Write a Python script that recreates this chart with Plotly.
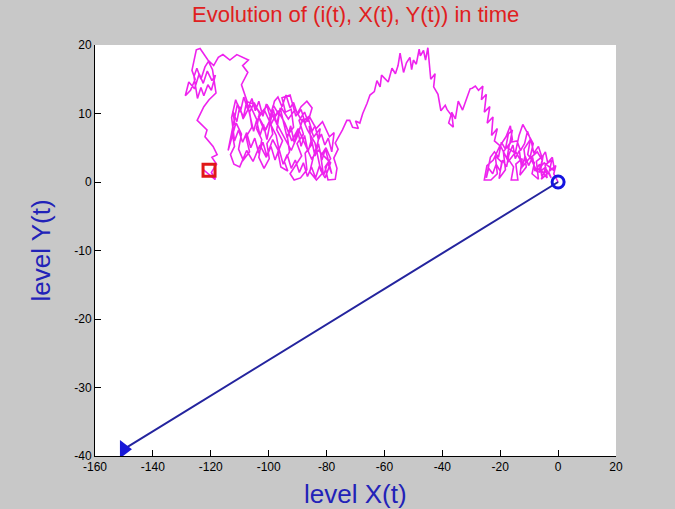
import plotly.graph_objects as go

# Magenta random-walk path (i(t)), from start (0,0) to the red square
walk_x = [0, -1.5, -0.8, -3, -2.2, -4.5, -3.8, -6, -5.2, -7.5, -6.8, -9, -8.2, -10.5, -9.6, -11.8, -11, -13.2,
          -12.4, -14.6, -13.9, -16.2, -15.4, -17.6, -16.8, -18.9, -18.2, -20.4, -19.5, -21.7, -21, -23.2, -25.5,
          -24.6, -22.4, -20.2, -18, -16.5, -15.8, -17.5, -14.8, -13.5, -12.2, -10.4, -8.6, -9.8, -7.2, -5.5,
          -6.6, -4.2, -5.8, -3.2, -2.4,
          -4, -5.6, -6.4, -8, -8.8, -10.2, -11.4, -12.6, -13.4, -14.8, -15.6, -17, -17.8, -19.2, -20, -21.4,
          -22.6, -24, -24.8, -23.4, -22, -20.6, -19.6, -18.2, -17.2, -15.8, -16.6, -14.2, -13, -11.6, -10.6,
          -9.2, -8.4, -6.8, -5.6, -4.4, -3.6, -2, -1.2,
          -4.8, -7.4, -9.6, -12, -14.6, -17.2, -19.8, -22, -21, -23, -22.5, -24.5,
          -23.6, -25.5, -24.8, -26.5, -26, -27.5, -28.6, -29.7, -30.4, -31.6, -33, -34.5, -35.5, -36.8, -36.2,
          -37.8, -37, -38.4, -39, -40.5, -41.5, -43, -42.5, -44, -44.6, -45, -45.8, -46.5, -47.6, -48, -49, -50,
          -50.6, -51.2, -52.4, -53.4, -54.6, -55.3, -56.2, -57.4, -58.7, -60, -61, -61.5, -62.6, -63.5, -65,
          -66, -67.5, -68.5, -70, -69, -71, -72, -73, -74.5, -75.5, -77, -76, -77.5, -76.4, -77,
          -79.5, -80.5, -78.6, -80.2, -82, -81.2, -83.5, -85.8, -84.6, -83, -82.2, -84.4, -86, -85.2, -87.4,
          -86.8, -89, -91.2, -92.6, -90.4, -88.6, -90.2, -88, -89.5, -87.6, -86.4, -85, -86.8, -88.8, -90.6,
          -92.6, -95.4, -94.2, -92.2, -91.4, -93.6, -92.8, -94.6, -93.4, -95.8, -96.8, -95.2, -97.2, -96.4,
          -98.4, -99.6, -98.6, -100.6, -99.8, -101.6, -103.4, -102.4, -104.2, -103.2, -105, -106.6, -105.8,
          -107.8, -106.6, -108.8, -110.4, -109.4, -111.2, -112.6, -111.8, -113.2, -112, -110, -107.6, -105.4,
          -103, -100.8, -98.6, -96.2, -97.4, -99.8, -101.4, -103.6, -101, -98.8, -96.6, -94.4, -92.2, -90,
          -88.2, -86.6, -84, -82, -80.5, -78.6, -82.8, -85.2, -87.6, -89.8, -92, -94.4, -96.8, -99.2, -101.6,
          -104, -106.4, -108.6, -110.8, -113, -114, -111.6,
          -112.4, -111, -110, -108.8, -107.6, -106.4, -105.2, -104.2, -103, -101.8, -100.6, -99.4, -98.4, -97.2,
          -96, -94.8, -93.6, -92.4, -91.2, -90, -88.8, -87.6, -86.4, -85.2, -84, -82.8, -81.6, -80.4, -79.2,
          -78.2, -79.6, -81, -82.4, -83.8, -85.2, -86.6, -88, -89.4, -90.8, -92.2, -93.6, -95, -96.4, -97.8,
          -99.2, -100.6, -102, -103.4, -104.8, -106.2, -107.6, -109, -110.4, -111.8, -112.8,
          -111.4, -109.8, -108.6, -107.2, -105.8, -104.6, -103.4, -102, -100.8, -99.4, -98, -96.8, -95.4, -94,
          -92.6, -91.4, -90, -88.8, -87.4, -86.4, -85, -84, -82.8, -81.8, -80.6, -79.4, -78.2, -77.4,
          -79, -81.4, -83.6, -86, -88.4, -90.8, -93.2, -95.6, -98, -100.4, -102.8, -105.2, -107.4,
          -109.4, -107.2, -109, -107, -111, -113.4, -115.8,
          -117.4, -119, -121, -123.7, -125, -126.5, -125.4, -127, -128.8, -127.6, -125.6, -124, -122.6, -121.2,
          -119.6, -118.4, -119.8, -121, -122.4, -123.4, -124.6, -125.8, -124.8, -123.4, -122, -120.8, -119.4,
          -118.2, -120.6, -122.4, -124.7, -123.7, -121.3, -122, -120.3, -119.2, -117.8, -119.6, -118,
          -119.8, -118.4, -118.6, -122.6, -122.4, -120.6]
walk_y = [0, 1.2, 2.4, 1.6, 3.2, 2.5, 0.6, 1.8, 3.8, 3, 0.4, 1.2, 2.8, 4, 6.2, 4.8, 2.2, 1,
          3.4, 2.6, 0.3, 0.3, 2.2, 3.6, 5.6, 4.4, 1.8, 0.5, 2.9, 3.8, 1.2, 0.3, 0.3,
          2.4, 3.2, 5.2, 6.6, 8.2, 6.2, 5, 4.2, 6.8, 8.4, 7, 5.6, 3.4, 4.4, 3.2,
          1.4, 2.2, 0.4, 1.4, 0.6,
          1.8, 0.8, 2.6, 1.6, 3.6, 2.4, 3.8, 2, 4.6, 3.4, 5.4, 4, 2.2, 3.2, 1.6, 2.6,
          1.2, 2, 0.6, 3.6, 4.4, 3.6, 5.8, 4.8, 7, 7.6, 5.8, 6, 4.6, 5.6, 7.4,
          5.8, 4.2, 5.2, 3.6, 4.4, 2.8, 3.6, 1.6,
          2.8, 1.6, 3.6, 2.4, 4.4, 3, 5.2, 6, 7.8, 6.8, 9.5, 8.6,
          11, 10.2, 12.8, 12, 14, 13.4, 14, 13.7, 13.6, 12.2, 10.5, 11.8, 9.2, 10.2, 8,
          8.6, 9.8, 10.6, 11.2, 10.4, 12.8, 13.9, 15.8, 15, 17.6, 19.6, 17.8, 19.2, 18.4, 19.4, 17.2, 17.8,
          16.4, 18.2, 17.4, 16, 18.8, 17, 15.8, 16.6, 14.6, 15.2, 15.6, 13.9, 14.8, 13.2, 12.7,
          11.5, 10, 8.6, 8.9, 7.8, 8, 9, 9, 7.6, 6.8, 5.7, 4.8, 3.5, 2, 0.4,
          0.3, 2.2, 3.4, 5, 3.8, 1.4, 0.3, 1.5, 3.6, 5.8, 7.8, 6.6, 8.2, 5.4, 4.2,
          1.8, 0.6, 0.3, 1.2, 2.6, 3.8, 5.6, 7, 9, 10.2, 8.8, 10.8, 11.8, 11, 9.6,
          12.7, 12.3, 10.2, 10.6, 8, 6.8, 4.4, 3, 1.6, 2.2, 4.4, 6, 7.6, 9.8,
          11.2, 9.4, 7, 5.6, 3.4, 2, 3.6, 6.2, 7.8, 10, 11.6, 10.2, 8,
          6.6, 4.4, 3.2, 4.8, 7, 8.6, 7.2, 5.2, 4, 2.6, 2.2, 4.6, 3,
          5.4, 3.6, 6.2, 4.2, 6.8, 8.8, 7.4, 9.6, 7.6, 9.8, 8, 6.4, 4.6,
          6.8, 9.2, 7.6, 5.7, 1.7, 0.6, 2.8, 4.6, 3.4, 5.8, 7.8, 6, 8.6, 10.4, 8.4,
          10.6, 9, 11.2, 9.4, 11.4, 6.6, 4.6,
          8.2, 10.4, 8.8, 11, 9.2, 11.8, 9.6, 7.4, 9, 6.8, 8.4, 6.2, 8.8, 10.6,
          8.4, 10.8, 8.6, 6.4, 8.2, 5.8, 7.6, 5.2, 6.8, 4.4, 6.2, 3.8, 5.6, 3.2, 4.8,
          2.6, 1.2, 2.8, 1, 2.4, 0.6, 2.2, 0.8, 2.8, 1.4, 3.2, 2, 4, 2.6, 4.8,
          3.2, 5.2, 3.8, 5.8, 4.2, 6.4, 5, 7.2, 5.8, 7.6, 6,
          9.4, 12, 10.2, 12.4, 10.6, 12.2, 10.4, 11.8, 9.6, 11.4, 9.4, 11.8, 12.4, 11,
          12.7, 10.8, 11.6, 9.8, 10.6, 8.6, 9.4, 7.4, 8.2, 6.2, 7, 5.4, 6.4, 4.4,
          7.2, 6.6, 8.8, 7.8, 9.6, 8.8, 10.6, 9.2, 10.8, 9.4, 11.2, 10, 11.4,
          11.7, 14.2, 16, 17, 17.8, 18.6, 17.8,
          18.6, 18.2, 17, 17.8, 19.5, 19.3, 16.3, 15, 13.4, 12.6, 14.6, 13.6, 15.8, 14.4,
          16.2, 14.8, 15.6, 13.4, 14.2, 12.6, 13.8, 12.2, 15.4, 16.6, 15, 16.8, 17.6,
          16.4, 13, 12, 11, 9, 8.6, 7.6, 6.6, 5.8, 5.2, 4, 3.6,
          2.6, 1.4, 0.4, 0.4, 1.8, 1.7]

# Blue line (X(t), Y(t)) from origin to the final point
line_x = [0, -15, -30, -45, -60, -75, -90, -105, -120, -135, -150]
line_y = [0, -3.9, -7.8, -11.7, -15.6, -19.5, -23.4, -27.3, -31.2, -35.1, -39]

x_ticks = [-160, -140, -120, -100, -80, -60, -40, -20, 0, 20]
y_ticks = [-40, -30, -20, -10, 0, 10, 20]

title_text = "Evolution of (i(t), X(t), Y(t)) in time"
x_label = "level X(t)"
y_label = "level Y(t)"

fig = go.Figure()
fig.add_trace(go.Scatter(x=walk_x, y=walk_y, mode="lines",
                         line=dict(color="#ee22ee", width=1.6), hoverinfo="skip"))
fig.add_trace(go.Scatter(x=line_x, y=line_y, mode="lines",
                         line=dict(color="#24249e", width=2), hoverinfo="skip"))
fig.add_trace(go.Scatter(x=[line_x[0]], y=[line_y[0]], mode="markers",
                         marker=dict(symbol="circle-open", size=12, color="#1414e0",
                                     line=dict(width=3, color="#1414e0"))))
fig.add_trace(go.Scatter(x=[line_x[-1]], y=[line_y[-1]], mode="markers",
                         marker=dict(symbol="triangle-right", size=16, color="#1818d8")))
fig.add_trace(go.Scatter(x=[walk_x[-1]], y=[walk_y[-1]], mode="markers",
                         marker=dict(symbol="square-open", size=12, color="#e01818",
                                     line=dict(width=3, color="#e01818"))))

axis_common = dict(showgrid=False, zeroline=False, showline=True, linecolor="black", linewidth=1,
                   ticks="inside", ticklen=6, tickcolor="black",
                   tickfont=dict(family="Liberation Sans, Arial, sans-serif", size=12, color="black"))

fig.update_layout(
    width=675, height=509,
    paper_bgcolor="#c8c8c8", plot_bgcolor="white",
    margin=dict(l=95, r=59, t=45, b=53),
    showlegend=False,
    xaxis=dict(range=[-160, 20], tickvals=x_ticks, ticktext=[str(v) for v in x_ticks], **axis_common),
    yaxis=dict(range=[-40, 20], tickvals=y_ticks, ticktext=[str(v) for v in y_ticks], **axis_common),
    annotations=[
        dict(text=title_text, xref="paper", yref="paper", x=0.5, y=1, yshift=31,
             xanchor="center", yanchor="middle", showarrow=False,
             font=dict(family="Liberation Sans, Arial, sans-serif", size=22, color="#e02020")),
        dict(text=x_label, xref="paper", yref="paper", x=0.5, y=0, yshift=-38,
             xanchor="center", yanchor="middle", showarrow=False,
             font=dict(family="Liberation Sans, Arial, sans-serif", size=26, color="#2222b8")),
        dict(text=y_label, xref="paper", yref="paper", x=0, y=0.5, xshift=-55, textangle=-90,
             xanchor="center", yanchor="middle", showarrow=False,
             font=dict(family="Liberation Sans, Arial, sans-serif", size=26, color="#2222b8")),
    ],
)

fig.write_html("out.html", config={"displayModeBar": False},
               post_script="document.body.style.margin='0';document.body.style.overflow='hidden';")
